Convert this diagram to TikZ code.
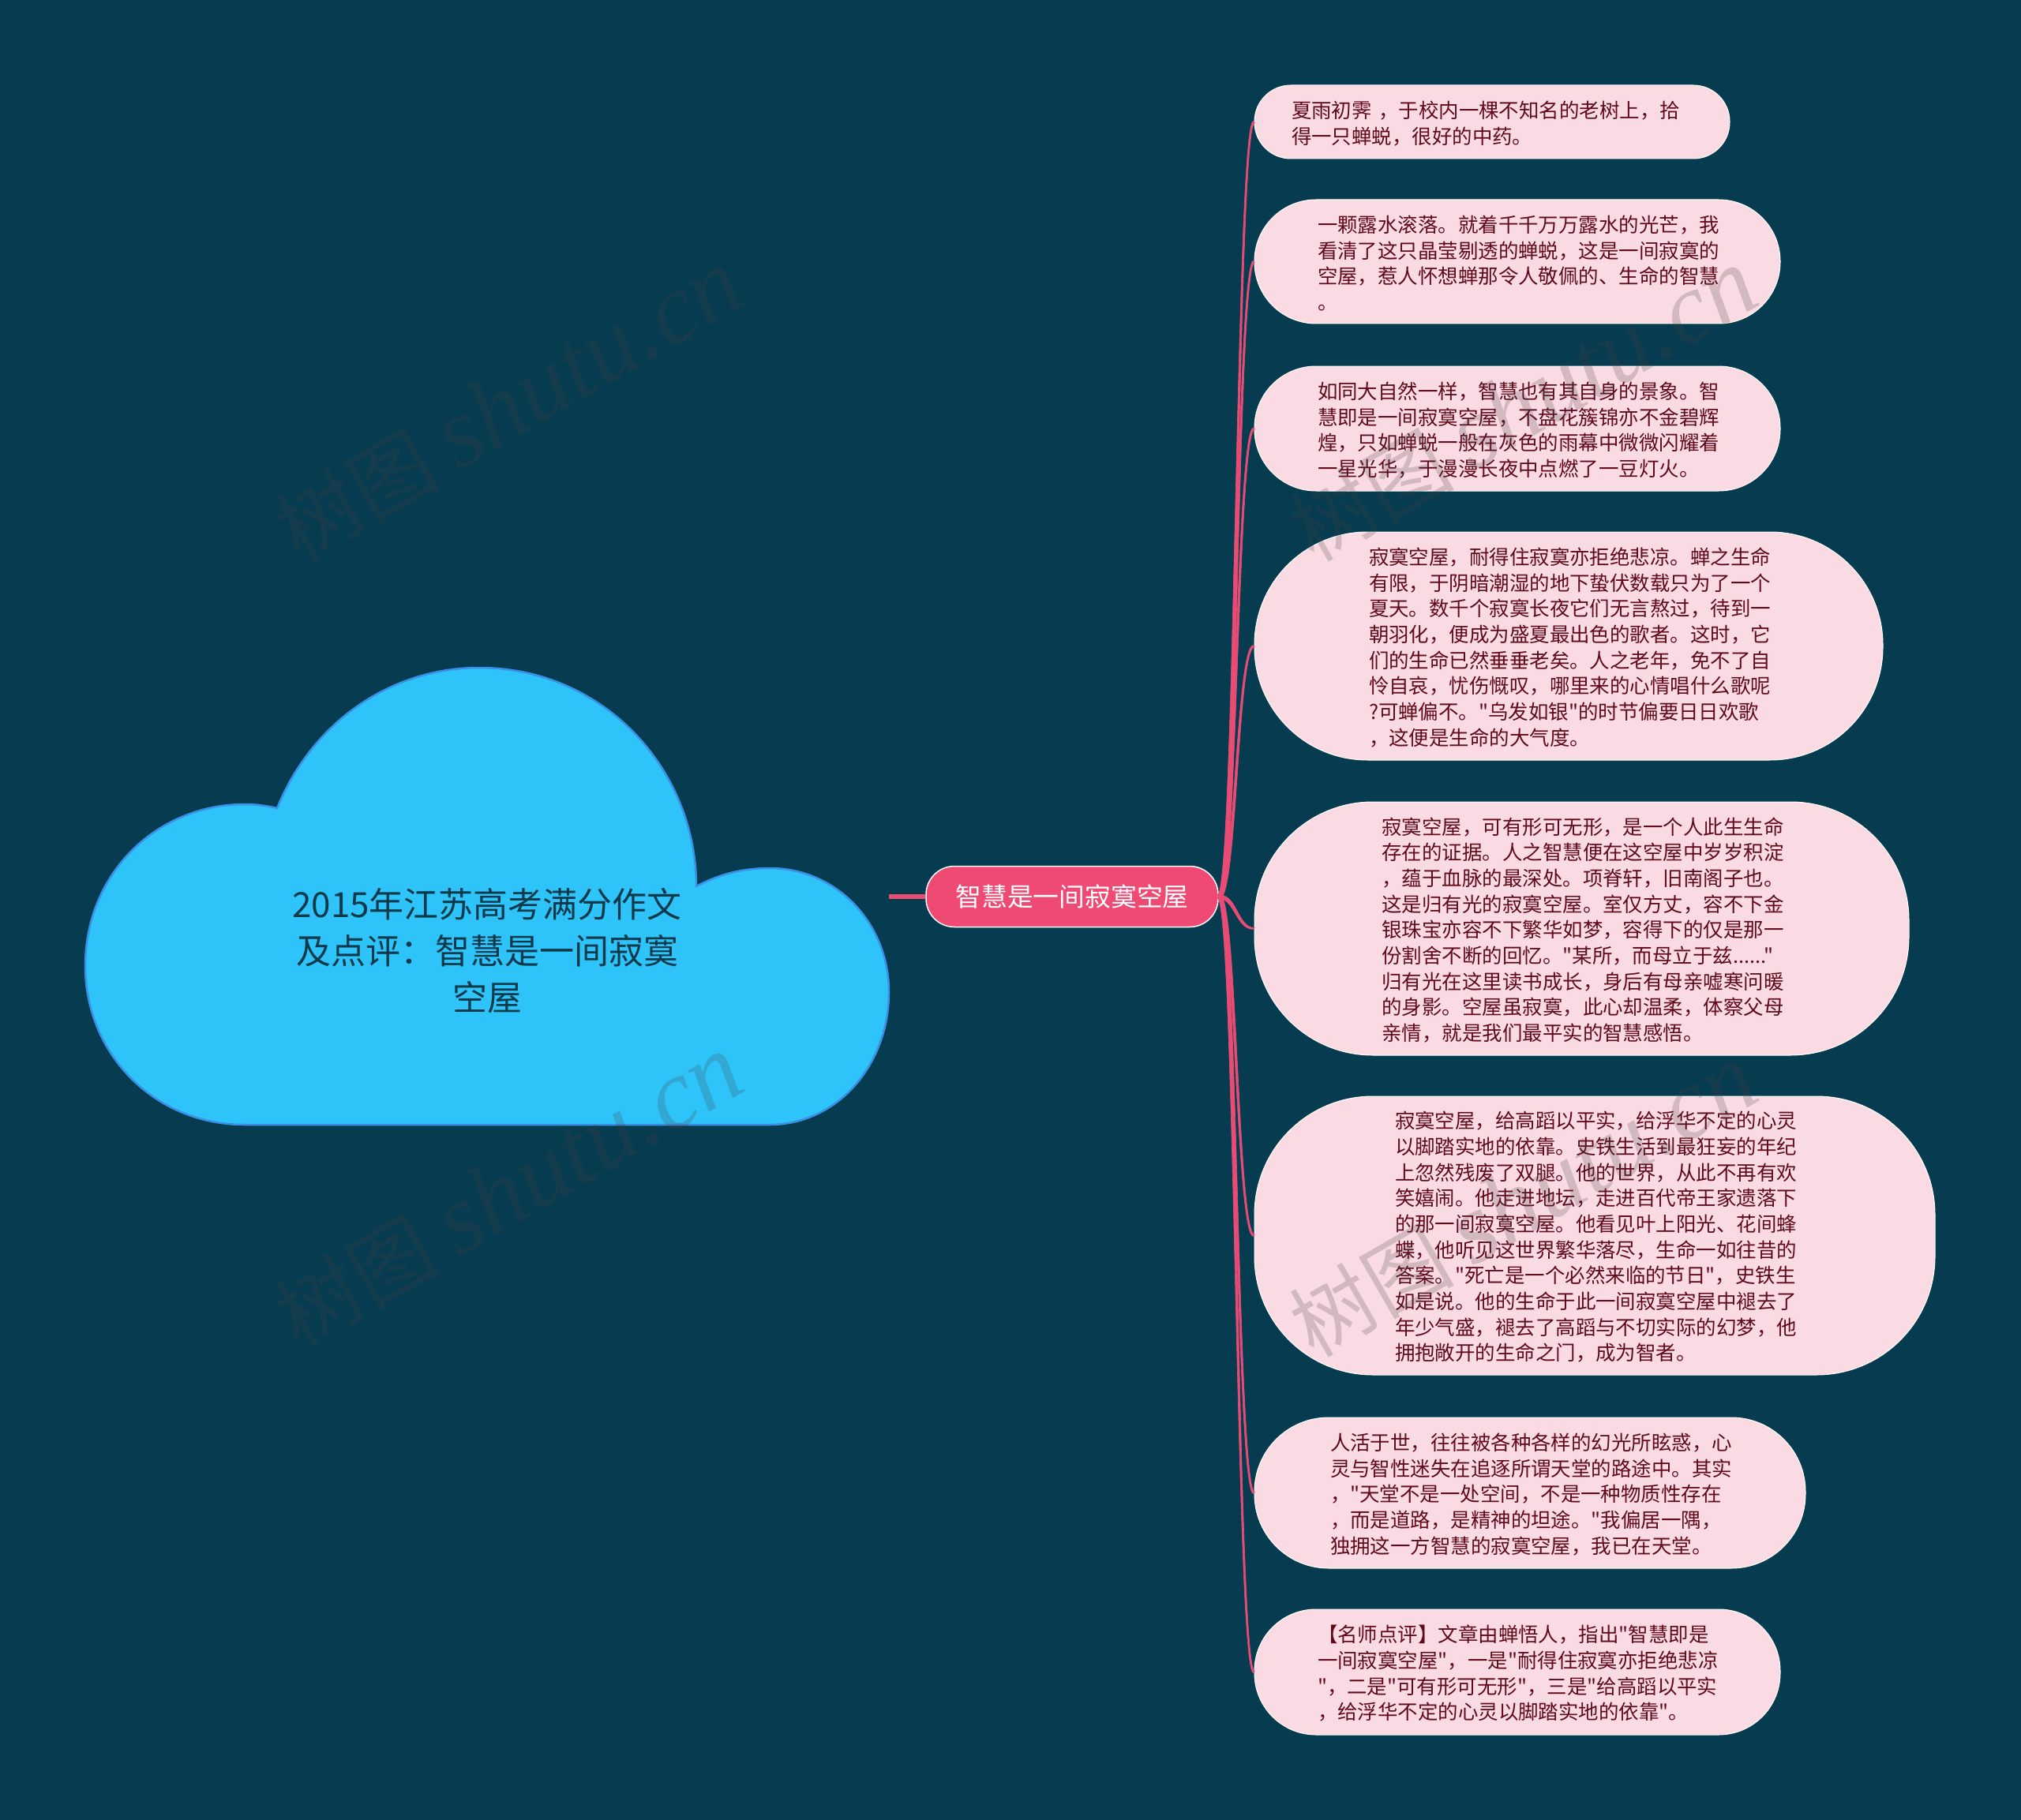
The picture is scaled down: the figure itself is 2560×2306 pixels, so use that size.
\documentclass[tikz,border=0pt]{standalone}
\usepackage{fontspec}
\usetikzlibrary{calc}
\newfontfamily\cjkf{Noto Sans CJK SC}
\newfontfamily\wmlatin{Liberation Serif}[ItalicFont=* Italic]
\definecolor{bgc}{HTML}{073B4F}
\definecolor{cloudfill}{HTML}{2EC4F9}
\definecolor{cloudline}{HTML}{3A8FE6}
\definecolor{hubfill}{HTML}{EF4A73}
\definecolor{leaffill}{HTML}{FBDBE3}
\definecolor{leaftext}{HTML}{600A1C}
\definecolor{linkc}{HTML}{E84C75}
\definecolor{cloudtext}{HTML}{0E3A4C}
\definecolor{wmc}{HTML}{444444}
\tikzset{
  x=1pt,y=-1pt,
  leaf/.style={draw=white,line width=1pt,fill=leaffill,text=leaftext,inner sep=0pt,align=left,
    font=\cjkf\fontsize{25.45}{32.65}\selectfont,execute at begin node={\rule{0pt}{25.5pt}}},
  hubbox/.style={draw=white,line width=1.5pt,fill=hubfill,text=white,inner sep=0pt,rounded corners=36pt,
    minimum width=370pt,minimum height=77pt,font=\cjkf\fontsize{32.8}{40}\selectfont},
  link/.style={fill=linkc,draw=linkc,line width=.6pt},
  stub/.style={draw=linkc,line width=5.5pt},
  wmark/.style={text=wmc,text opacity=.22,rotate=30,inner sep=0pt,font=\cjkf\fontsize{104}{120}\selectfont}
}
% tapered connector from the hub to a leaf; #2 = +1 when the leaf lies below the hub, -1 above
\newcommand{\linkto}[2]{%
  \path[link] ($(hub.east)+(1.8,{-1.8*(#2)})$) .. controls ($(hub.east)+(23.6,{-1.6*(#2)})$) and ($(#1.west)+(-20.9,{-1.1*(#2)})$) .. ($(#1.west)+(0.9,{-0.9*(#2)})$)
     -- ($(#1.west)+(-0.9,{0.9*(#2)})$) .. controls ($(#1.west)+(-23.1,{1.1*(#2)})$) and ($(hub.east)+(20.4,{1.6*(#2)})$) .. ($(hub.east)+(-1.8,{1.8*(#2)})$) -- cycle;}
\newcommand{\wmtext}{树图 {\wmlatin\itshape\fontsize{127}{140}\selectfont shutu.cn}}
\begin{document}
\begin{tikzpicture}
\useasboundingbox (0,0) rectangle (2560,2306);
\fill[bgc] (0,0) rectangle (2560,2306);
% cloud
\draw[fill=cloudfill,draw=cloudline,line width=2.5pt]
  (310,1425) .. controls (195,1425) and (108,1335) .. (108,1224)
  .. controls (108,1105) and (200,1019) .. (310,1019)
  .. controls (325,1019) and (338,1021) .. (351,1024)
  .. controls (395,915) and (495,846) .. (607,846)
  .. controls (765,846) and (882,975) .. (882,1123)
  .. controls (910,1108) and (940,1100) .. (975,1100)
  .. controls (1060,1100) and (1126,1170) .. (1126,1257)
  .. controls (1126,1350) and (1060,1425) .. (975,1425)
  -- cycle;
\node[text=cloudtext,align=center,font=\cjkf\fontsize{44}{59}\selectfont] (root) at (617,1205)
  {2015年江苏高考满分作文\\及点评：智慧是一间寂寞\\空屋};
\coordinate (rootedge) at (1126,1136);
% hub
\node[hubbox] (hub) at (1358,1136) {智慧是一间寂寞空屋};
\draw[stub] (rootedge) -- (hub.west);
% leaves
\node[leaf,rounded corners=46pt,minimum width=602pt,minimum height=93pt,text width=508pt] (n1) at (1890,154.5)
 {夏雨初霁 ，于校内一棵不知名的老树上，拾\\得一只蝉蜕，很好的中药。};
\node[leaf,rounded corners=78pt,minimum width=666pt,minimum height=157pt,text width=506pt] (n2) at (1922,331.5)
 {一颗露水滚落。就着千千万万露水的光芒，我\\看清了这只晶莹剔透的蝉蜕，这是一间寂寞的\\空屋，惹人怀想蝉那令人敬佩的、生命的智慧\\。};
\node[leaf,rounded corners=78pt,minimum width=666pt,minimum height=158pt,text width=506pt] (n3) at (1922,543)
 {如同大自然一样，智慧也有其自身的景象。智\\慧即是一间寂寞空屋，不盘花簇锦亦不金碧辉\\煌，只如蝉蜕一般在灰色的雨幕中微微闪耀着\\一星光华，于漫漫长夜中点燃了一豆灯火。};
\node[leaf,rounded corners=143pt,minimum width=796pt,minimum height=289pt,text width=506pt] (n4) at (1987,818.5)
 {寂寞空屋，耐得住寂寞亦拒绝悲凉。蝉之生命\\有限，于阴暗潮湿的地下蛰伏数载只为了一个\\夏天。数千个寂寞长夜它们无言熬过，待到一\\朝羽化，便成为盛夏最出色的歌者。这时，它\\们的生命已然垂垂老矣。人之老年，免不了自\\怜自哀，忧伤慨叹，哪里来的心情唱什么歌呢\\?可蝉偏不。"乌发如银"的时节偏要日日欢歌\\，这便是生命的大气度。};
\node[leaf,rounded corners=150pt,minimum width=829pt,minimum height=321pt,text width=506pt] (n5) at (2003.5,1176.5)
 {寂寞空屋，可有形可无形，是一个人此生生命\\存在的证据。人之智慧便在这空屋中岁岁积淀\\，蕴于血脉的最深处。项脊轩，旧南阁子也。\\这是归有光的寂寞空屋。室仅方丈，容不下金\\银珠宝亦容不下繁华如梦，容得下的仅是那一\\份割舍不断的回忆。"某所，而母立于兹......"\\归有光在这里读书成长，身后有母亲嘘寒问暖\\的身影。空屋虽寂寞，此心却温柔，体察父母\\亲情，就是我们最平实的智慧感悟。};
\node[leaf,rounded corners=150pt,minimum width=862pt,minimum height=353pt,text width=506pt] (n6) at (2020,1565.5)
 {寂寞空屋，给高蹈以平实，给浮华不定的心灵\\以脚踏实地的依靠。史铁生活到最狂妄的年纪\\上忽然残废了双腿。他的世界，从此不再有欢\\笑嬉闹。他走进地坛，走进百代帝王家遗落下\\的那一间寂寞空屋。他看见叶上阳光、花间蜂\\蝶，他听见这世界繁华落尽，生命一如往昔的\\答案。"死亡是一个必然来临的节日"，史铁生\\如是说。他的生命于此一间寂寞空屋中褪去了\\年少气盛，褪去了高蹈与不切实际的幻梦，他\\拥抱敞开的生命之门，成为智者。};
\node[leaf,rounded corners=94pt,minimum width=698pt,minimum height=191pt,text width=506pt] (n7) at (1938,1891.5)
 {人活于世，往往被各种各样的幻光所眩惑，心\\灵与智性迷失在追逐所谓天堂的路途中。其实\\，"天堂不是一处空间，不是一种物质性存在\\，而是道路，是精神的坦途。"我偏居一隅，\\独拥这一方智慧的寂寞空屋，我已在天堂。};
\node[leaf,rounded corners=78pt,minimum width=666pt,minimum height=159pt,text width=506pt] (n8) at (1922,2118.5)
 {【名师点评】文章由蝉悟人，指出"智慧即是\\一间寂寞空屋"，一是"耐得住寂寞亦拒绝悲凉\\"，二是"可有形可无形"，三是"给高蹈以平实\\，给浮华不定的心灵以脚踏实地的依靠"。};
% connectors
\linkto{n1}{-1}\linkto{n2}{-1}\linkto{n3}{-1}\linkto{n4}{-1}\linkto{n5}{1}\linkto{n6}{1}\linkto{n7}{1}\linkto{n8}{1}
% watermarks
\node[wmark] (w1) at (645,514) {\wmtext};
\node[wmark] (w2) at (645,1510) {\wmtext};
\node[wmark] (w3) at (1930,514) {\wmtext};
\node[wmark] (w4) at (1930,1522) {\wmtext};
\end{tikzpicture}
\end{document}
